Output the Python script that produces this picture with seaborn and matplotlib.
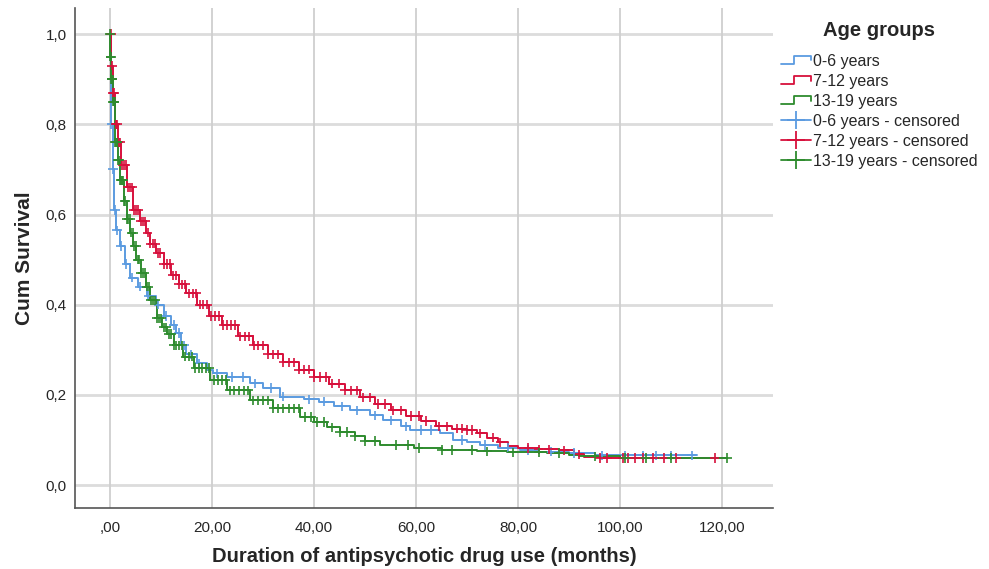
import numpy as np
import pandas as pd
import matplotlib
matplotlib.use("Agg")
import matplotlib.pyplot as plt
import seaborn as sns
from matplotlib.lines import Line2D
from matplotlib.legend_handler import HandlerBase

# Kaplan-Meier curves (time in months, cumulative survival)
groups = ["0-6 years", "7-12 years", "13-19 years"]
colors = ["#5b9be0", "#d7103c", "#2e8b2e"]

t_06 = [0, 0.2, 0.5, 0.8, 1.2, 2.0, 3.0, 3.9, 5.5, 7.2, 9.0, 10.5, 12.0, 13.0, 14.0, 15.0,
        17.0, 19.0, 20.2, 23.0, 27.5, 30.0, 33.3, 38.0, 41.0, 44.0, 47.0, 51.0, 53.5, 57.0,
        58.8, 64.7, 67.3, 70.0, 72.5, 76.0, 80.4, 84.0, 90.0, 95.0, 115.0]
s_06 = [1.0, 0.80, 0.70, 0.61, 0.565, 0.53, 0.49, 0.46, 0.44, 0.42, 0.40, 0.375, 0.355, 0.337,
        0.31, 0.29, 0.27, 0.255, 0.248, 0.24, 0.226, 0.215, 0.196, 0.19, 0.185, 0.175, 0.166,
        0.155, 0.144, 0.13, 0.122, 0.115, 0.10, 0.095, 0.089, 0.083, 0.078, 0.074, 0.071,
        0.066, 0.066]

t_712 = [0, 0.3, 0.6, 1.0, 1.5, 2.2, 3.3, 4.6, 5.9, 7.0, 7.8, 9.0, 10.5, 12.0, 13.5, 15.0,
         17.0, 19.5, 22.0, 25.0, 28.0, 31.0, 34.0, 37.0, 40.0, 43.0, 46.0, 49.0, 52.0, 55.0,
         58.0, 61.0, 64.0, 67.0, 70.0, 72.0, 74.0, 76.0, 78.0, 80.0, 84.0, 88.0, 91.0, 93.0,
         96.0, 120.5]
s_712 = [1.0, 0.93, 0.87, 0.80, 0.76, 0.71, 0.66, 0.61, 0.585, 0.56, 0.535, 0.515, 0.49,
         0.465, 0.445, 0.425, 0.40, 0.375, 0.355, 0.33, 0.31, 0.29, 0.272, 0.256, 0.24, 0.225,
         0.21, 0.195, 0.18, 0.166, 0.153, 0.142, 0.13, 0.125, 0.122, 0.115, 0.105, 0.095,
         0.087, 0.082, 0.079, 0.077, 0.068, 0.062, 0.06, 0.06]

t_1319 = [0, 0.1, 0.3, 0.6, 1.0, 1.5, 2.0, 2.7, 3.3, 4.0, 4.6, 5.2, 6.0, 7.0, 7.8, 9.2, 10.2,
          11.1, 12.5, 14.4, 16.5, 19.6, 23.0, 27.5, 32.0, 37.2, 40.0, 42.5, 45.0, 48.0, 50.0,
          53.0, 59.5, 65.0, 72.0, 77.8, 85.6, 90.0, 92.0, 100.0, 121.0]
s_1319 = [1.0, 0.95, 0.90, 0.85, 0.76, 0.72, 0.676, 0.63, 0.59, 0.56, 0.53, 0.50, 0.47, 0.44,
          0.41, 0.37, 0.35, 0.335, 0.31, 0.285, 0.26, 0.233, 0.21, 0.188, 0.17, 0.151, 0.14,
          0.128, 0.118, 0.108, 0.098, 0.089, 0.082, 0.078, 0.075, 0.073, 0.071, 0.067, 0.064,
          0.06, 0.06]

# censored observations (times)
cens_06 = [0.3, 0.6, 1.0, 1.4, 2.1, 3.2, 4.4, 5.8, 7.5, 9.5, 11.0, 12.5, 13.5, 14.5, 15.8,
           17.5, 21.0, 24.0, 26.0, 28.5, 31.5, 34.0, 39.0, 42.0, 45.5, 48.5, 52.0, 55.0,
           58.0, 61.0, 63.0, 69.0, 73.5, 78.0, 82.0, 86.5, 91.0, 96.5, 101.0, 104.5, 107.0,
           110.0, 114.0]
cens_712 = [0.2, 0.4, 0.6, 0.8, 1.1, 1.4, 1.7, 2.0, 2.4, 2.8, 3.1, 3.5, 3.9, 4.3, 4.7, 5.1,
            5.5, 6.0, 6.4, 6.9, 7.4, 7.9, 8.4, 8.9, 9.4, 9.9, 10.5, 11.1, 11.7, 12.3, 12.9,
            13.5, 14.1, 14.8, 15.5, 16.2, 16.9, 17.6, 18.3, 19.0, 19.8, 20.6, 21.4, 22.2,
            23.0, 23.8, 24.6, 25.5, 26.4, 27.3, 28.2, 29.1, 30.0, 31.0, 32.0, 33.0, 34.0,
            35.0, 36.0, 37.0, 38.0, 39.0, 40.0, 41.2, 42.4, 43.6, 44.8, 46.0, 47.2, 48.4,
            49.6, 51.0, 52.5, 54.0, 55.5, 57.0, 59.0, 60.5, 62.0, 64.5, 66.0, 68.0, 69.0,
            70.0, 71.0, 72.5, 75.0, 76.5, 82.0, 84.0, 86.0, 89.0, 92.0, 96.0, 97.5, 100.5,
            101.5, 103.0, 104.5, 106.5, 108.5, 111.0, 118.5]
cens_1319 = [0.0, 0.1, 0.2, 0.3, 0.4, 0.5, 0.6, 0.7, 0.8, 0.9, 1.0, 1.2, 1.4, 1.6, 1.8, 2.0,
             2.2, 2.4, 2.6, 2.8, 3.0, 3.3, 3.6, 3.9, 4.2, 4.5, 4.8, 5.1, 5.4, 5.7, 6.0, 6.4,
             6.8, 7.2, 7.6, 8.0, 8.4, 8.8, 9.2, 9.6, 10.0, 10.5, 11.0, 11.5, 12.0, 12.5, 13.0,
             13.6, 14.2, 14.8, 15.4, 16.0, 16.7, 17.4, 18.1, 18.8, 19.5, 20.3, 21.1, 21.9,
             22.7, 23.5, 24.4, 25.3, 26.2, 27.1, 28.0, 29.0, 30.0, 31.0, 32.0, 33.0, 34.0,
             35.0, 36.0, 37.0, 38.2, 39.4, 40.6, 42.0, 43.5, 45.0, 46.5, 48.0, 50.0, 52.0,
             56.0, 58.5, 60.5, 65.0, 67.0, 71.0, 74.0, 79.0, 84.0, 88.0, 95.0, 101.0, 105.0,
             110.0, 121.0]

x_ticks = [0, 20, 40, 60, 80, 100, 120]
x_labels = [",00", "20,00", "40,00", "60,00", "80,00", "100,00", "120,00"]
y_ticks = [0.0, 0.2, 0.4, 0.6, 0.8, 1.0]
y_labels = ["0,0", "0,2", "0,4", "0,6", "0,8", "1,0"]

times = [t_06, t_712, t_1319]
survs = [s_06, s_712, s_1319]
censs = [cens_06, cens_712, cens_1319]

# long-form tables for seaborn
curves = pd.concat([pd.DataFrame({"t": t, "s": s, "grupo": g})
                    for t, s, g in zip(times, survs, groups)], ignore_index=True)

def valor_na_curva(t, s, x):
    # survival of a step curve at time x
    idx = np.searchsorted(t, x, side="right") - 1
    return np.array(s)[np.clip(idx, 0, len(s) - 1)]

marcas = pd.concat([pd.DataFrame({"t": c, "s": valor_na_curva(t, s, c), "grupo": g})
                    for t, s, c, g in zip(times, survs, censs, groups)], ignore_index=True)

sns.set_style("white")
plt.rcParams["font.family"] = ["Liberation Sans", "DejaVu Sans"]

fig = plt.figure(figsize=(9.89, 5.69), dpi=100)
ax = fig.add_axes([0.0758, 0.107, 0.706, 0.879])

pal = dict(zip(groups, colors))
sns.lineplot(data=curves, x="t", y="s", hue="grupo", palette=pal, drawstyle="steps-post",
             linewidth=1.4, estimator=None, sort=False, legend=False, ax=ax, zorder=3)
sns.scatterplot(data=marcas, x="t", y="s", hue="grupo", palette=pal, marker="+", s=45,
                linewidth=1.2, legend=False, ax=ax, zorder=4)

ax.set_xlim(-6.86, 130)
ax.set_ylim(-0.051, 1.058)
ax.set_xticks(x_ticks)
ax.set_xticklabels(x_labels, fontsize=11)
ax.set_yticks(y_ticks)
ax.set_yticklabels(y_labels, fontsize=11)
ax.tick_params(length=0)
ax.tick_params(axis="x", pad=9)
ax.tick_params(axis="y", pad=6)

for y in y_ticks:
    ax.axhline(y, color="#dcdcdc", lw=2.0, zorder=1)
for x in x_ticks:
    ax.axvline(x, color="#cfcfcf", lw=1.3, zorder=1)

for side in ["top", "right"]:
    ax.spines[side].set_visible(False)
for side in ["left", "bottom"]:
    ax.spines[side].set_color("#555555")
    ax.spines[side].set_linewidth(1.2)

ax.set_xlabel("Duration of antipsychotic drug use (months)", fontsize=14.5, fontweight="bold",
              labelpad=9)
ax.set_ylabel("Cum Survival", fontsize=15, fontweight="bold", labelpad=8)


class HandlerDegrau(HandlerBase):
    # step-shaped legend key like SPSS
    def create_artists(self, legend, orig_handle, xd, yd, w, h, fontsize, trans):
        xs = [xd, xd + w * 0.45, xd + w * 0.45, xd + w, xd + w]
        ys = [yd + h * 0.15, yd + h * 0.15, yd + h * 0.85, yd + h * 0.85, yd + h * 0.45]
        ln = Line2D(xs, ys, color=orig_handle.get_color(), lw=1.3, transform=trans)
        return [ln]


handles = [Line2D([], [], color=c) for c in colors]
handles += [Line2D([], [], color=c, marker="+", markersize=13, markeredgewidth=1.3, lw=1.3)
            for c in colors]
labels = groups + [g + " - censored" for g in groups]
handler_map = {h: HandlerDegrau() for h in handles[:3]}
leg = fig.legend(handles, labels, handler_map=handler_map, loc="upper left",
                 bbox_to_anchor=(0.783, 0.975), frameon=False, fontsize=11.5,
                 title="Age groups", title_fontproperties={"weight": "bold", "size": 14.5},
                 handlelength=1.9, handletextpad=0.1, labelspacing=0.32, borderaxespad=0)
leg._legend_box.sep = 10

fig.savefig("out.png", dpi=100)
